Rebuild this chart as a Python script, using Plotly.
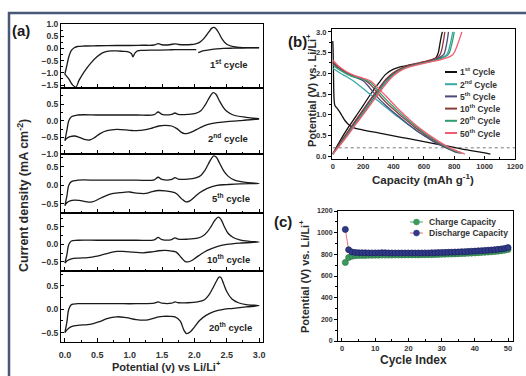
import plotly.graph_objects as go

W, H = 526, 376

# ---------------- Panel (a): CV data (Potential V, current mA cm-2) ----------------
cv_labels = ["1<sup>st</sup> cycle", "2<sup>nd</sup> cycle", "5<sup>th</sup> cycle",
             "10<sup>th</sup> cycle", "20<sup>th</sup> cycle"]

# cathodic sweeps (3.0 V -> 0 V)
cv1_dn_v = [3.0, 2.8, 2.6, 2.45, 2.35, 2.25, 2.15, 2.1, 2.06, None, 2.03, 1.9, 1.8, 1.7, 1.6, 1.4, 1.2,
            1.12, 1.08, 1.05, 1.03, 0.98, 0.9, 0.8, 0.72, 0.65, 0.58, 0.5, 0.4, 0.3, 0.22, 0.17, 0.12, 0.06, 0.0]
cv1_dn_i = [0.02, 0.02, 0.01, 0.0, -0.02, -0.05, -0.09, -0.13, -0.17, None, -0.05, -0.05, -0.05, -0.05, -0.06,
            -0.07, -0.08, -0.1, -0.2, -0.34, -0.22, -0.14, -0.12, -0.1, -0.1, -0.12, -0.18, -0.33, -0.6, -0.95,
            -1.3, -1.58, -1.5, -1.25, -1.05]
# anodic sweeps (0 V -> 3.0 V)
cv1_up_v = [0.0, 0.03, 0.06, 0.1, 0.15, 0.2, 0.3, 0.5, 0.8, 1.0, 1.2, 1.38, 1.44, 1.5, 1.62, 1.7, 1.76, 1.85,
            1.95, 2.02, 2.08, 2.13, 2.18, 2.23, 2.27, 2.3, 2.33, 2.38, 2.43, 2.5, 2.6, 2.7, 2.85, 3.0]
cv1_up_i = [-1.05, -0.7, -0.35, -0.08, 0.04, 0.08, 0.1, 0.11, 0.12, 0.12, 0.13, 0.14, 0.2, 0.15, 0.15, 0.19,
            0.16, 0.15, 0.16, 0.19, 0.25, 0.36, 0.52, 0.7, 0.83, 0.86, 0.82, 0.62, 0.38, 0.17, 0.07, 0.04, 0.03, 0.03]

cv2_dn_v = [3.0, 2.8, 2.7, 2.5, 2.35, 2.2, 2.08, 1.98, 1.9, 1.85, 1.8, 1.73, 1.65, 1.55, 1.45, 1.35, 1.25,
            1.1, 1.0, 0.8, 0.65, 0.55, 0.45, 0.38, 0.3, 0.22, 0.15, 0.08, 0.03, 0.0]
cv2_dn_i = [0.05, 0.02, 0.0, -0.03, -0.06, -0.12, -0.22, -0.32, -0.38, -0.39, -0.35, -0.24, -0.16, -0.14,
            -0.16, -0.22, -0.27, -0.3, -0.29, -0.26, -0.3, -0.38, -0.52, -0.58, -0.56, -0.5, -0.46, -0.48,
            -0.53, -0.6]
cv2_up_v = [0.0, 0.03, 0.06, 0.1, 0.2, 0.5, 0.8, 1.1, 1.38, 1.44, 1.5, 1.65, 1.7, 1.75, 1.9, 2.02, 2.1,
            2.16, 2.21, 2.26, 2.29, 2.33, 2.38, 2.44, 2.5, 2.6, 2.8, 3.0]
cv2_up_i = [-0.6, -0.3, 0.0, 0.12, 0.17, 0.17, 0.17, 0.17, 0.18, 0.26, 0.19, 0.19, 0.23, 0.19, 0.19, 0.22,
            0.3, 0.45, 0.62, 0.78, 0.84, 0.8, 0.62, 0.42, 0.28, 0.17, 0.1, 0.06]

cv5_dn_v = [3.0, 2.7, 2.5, 2.35, 2.2, 2.08, 2.0, 1.93, 1.87, 1.8, 1.72, 1.65, 1.55, 1.45, 1.35, 1.25, 1.1,
            1.0, 0.85, 0.7, 0.55, 0.42, 0.32, 0.22, 0.15, 0.08, 0.03, 0.0]
cv5_dn_i = [0.05, 0.04, 0.02, 0.0, -0.08, -0.2, -0.32, -0.42, -0.45, -0.36, -0.22, -0.18, -0.15, -0.14,
            -0.17, -0.22, -0.21, -0.18, -0.2, -0.24, -0.35, -0.45, -0.44, -0.41, -0.4, -0.42, -0.47, -0.55]
cv5_up_v = [0.0, 0.03, 0.06, 0.1, 0.2, 0.5, 0.8, 1.1, 1.38, 1.44, 1.5, 1.65, 1.7, 1.75, 1.9, 2.02, 2.1,
            2.16, 2.21, 2.26, 2.3, 2.34, 2.39, 2.45, 2.52, 2.62, 2.8, 3.0]
cv5_up_i = [-0.55, -0.3, 0.0, 0.1, 0.14, 0.14, 0.14, 0.14, 0.15, 0.22, 0.16, 0.16, 0.21, 0.17, 0.17, 0.2,
            0.27, 0.4, 0.56, 0.72, 0.8, 0.76, 0.6, 0.4, 0.25, 0.14, 0.08, 0.05]

cv10_dn_v = [3.0, 2.7, 2.5, 2.35, 2.2, 2.1, 2.03, 1.96, 1.9, 1.86, 1.8, 1.72, 1.65, 1.55, 1.45, 1.35, 1.2,
             1.05, 0.9, 0.8, 0.65, 0.55, 0.45, 0.35, 0.22, 0.1, 0.04, 0.0]
cv10_dn_i = [0.07, 0.04, 0.0, -0.06, -0.17, -0.28, -0.37, -0.46, -0.5, -0.49, -0.38, -0.22, -0.19, -0.17,
             -0.18, -0.21, -0.24, -0.22, -0.2, -0.2, -0.26, -0.31, -0.35, -0.38, -0.39, -0.41, -0.46, -0.53]
cv10_up_v = [0.0, 0.03, 0.06, 0.1, 0.2, 0.5, 0.8, 1.1, 1.38, 1.44, 1.5, 1.65, 1.7, 1.75, 1.9, 2.05, 2.13,
             2.2, 2.26, 2.32, 2.37, 2.41, 2.46, 2.52, 2.6, 2.7, 2.85, 3.0]
cv10_up_i = [-0.53, -0.3, 0.0, 0.1, 0.12, 0.12, 0.12, 0.12, 0.13, 0.2, 0.14, 0.14, 0.19, 0.15, 0.15, 0.18,
             0.24, 0.36, 0.52, 0.7, 0.78, 0.72, 0.52, 0.32, 0.2, 0.13, 0.09, 0.07]

cv20_dn_v = [3.0, 2.8, 2.6, 2.45, 2.3, 2.18, 2.08, 2.0, 1.94, 1.88, 1.84, 1.78, 1.7, 1.62, 1.52, 1.45, 1.35,
             1.25, 1.1, 0.95, 0.8, 0.65, 0.55, 0.45, 0.35, 0.22, 0.1, 0.04, 0.0]
cv20_dn_i = [0.08, 0.05, 0.02, 0.0, -0.05, -0.13, -0.24, -0.38, -0.48, -0.52, -0.45, -0.25, -0.16, -0.15,
             -0.15, -0.16, -0.2, -0.23, -0.22, -0.18, -0.16, -0.2, -0.26, -0.3, -0.33, -0.34, -0.37, -0.43, -0.5]
cv20_up_v = [0.0, 0.03, 0.06, 0.1, 0.2, 0.5, 0.8, 1.1, 1.38, 1.44, 1.5, 1.65, 1.7, 1.75, 1.9, 2.05, 2.15,
             2.22, 2.28, 2.34, 2.38, 2.41, 2.45, 2.5, 2.58, 2.68, 2.8, 3.0]
cv20_up_i = [-0.5, -0.28, 0.0, 0.1, 0.12, 0.12, 0.12, 0.12, 0.13, 0.16, 0.13, 0.13, 0.16, 0.14, 0.14, 0.16,
             0.2, 0.3, 0.44, 0.6, 0.69, 0.68, 0.55, 0.38, 0.22, 0.14, 0.1, 0.08]

cv_ranges = [[-1.62, 1.0], [-1.0, 0.98], [-0.75, 0.85], [-0.76, 0.9], [-0.7, 0.82]]
cv_ticks = [[1.0, 0.5, 0.0, -0.5, -1.0, -1.5], [0.5, 0.0, -0.5, -1.0], [0.5, 0.0, -0.5],
            [0.5, 0.0, -0.5], [0.5, 0.0, -0.5]]

# ---------------- Panel (b): charge/discharge profiles ----------------
cycle_names = ["1<sup>st</sup> Cycle", "2<sup>nd</sup> Cycle", "5<sup>th</sup> Cycle",
               "10<sup>th</sup> Cycle", "20<sup>th</sup> Cycle", "50<sup>th</sup> Cycle"]
cycle_colors = ["#111111", "#3aa9a9", "#4b4b7d", "#8c3b3b", "#2f9e6c", "#f25b72"]

dis1_cap = [0, 2, 4, 6, 9, 14, 25, 40, 60, 80, 105, 140, 200, 300, 400, 500, 600, 700, 800, 900, 1000, 1038]
dis1_v = [2.78, 2.6, 2.2, 1.7, 1.35, 1.22, 1.17, 1.1, 0.98, 0.86, 0.76, 0.68, 0.63, 0.56, 0.49, 0.42, 0.35,
          0.28, 0.21, 0.14, 0.08, 0.05]
chg1_cap = [0, 50, 100, 150, 200, 250, 300, 350, 400, 450, 500, 550, 600, 650, 680, 695, 705, 715, 722]
chg1_v = [0.05, 0.38, 0.68, 0.95, 1.22, 1.5, 1.75, 1.98, 2.1, 2.16, 2.2, 2.23, 2.27, 2.32, 2.38, 2.5, 2.7,
          2.9, 3.0]

dis_cap = [0, 25, 50, 100, 150, 200, 250, 300, 350, 400, 450, 500, 550, 600, 650, 700, 750, 800]
dis2_v = [2.12, 2.06, 2.0, 1.9, 1.78, 1.63, 1.48, 1.33, 1.18, 1.03, 0.89, 0.75, 0.62, 0.5, 0.39, 0.29, 0.2, 0.12]
dis5_v = [2.25, 2.16, 2.1, 1.98, 1.9, 1.82, 1.62, 1.4, 1.22, 1.06, 0.91, 0.76, 0.62, 0.5, 0.38, 0.28, 0.19, 0.11]
dis10_v = [2.28, 2.19, 2.12, 2.0, 1.92, 1.86, 1.72, 1.5, 1.3, 1.13, 0.97, 0.82, 0.67, 0.54, 0.42, 0.31, 0.21, 0.13]
dis20_v = [2.2, 2.13, 2.07, 1.97, 1.9, 1.86, 1.77, 1.57, 1.37, 1.19, 1.02, 0.86, 0.71, 0.57, 0.44, 0.33, 0.22, 0.13]
dis50_v = [2.32, 2.22, 2.14, 2.02, 1.94, 1.88, 1.81, 1.64, 1.45, 1.26, 1.07, 0.9, 0.74, 0.6, 0.47, 0.35, 0.24, 0.15]
dis_end_cap = [820, 835, 845, 850, 870]
dis_end_v = [0.08, 0.07, 0.07, 0.07, 0.05]

chg_cap = [0, 50, 100, 150, 200, 250, 300, 350, 400, 450, 500, 550, 600, 650, 700]
chg2_v = [0.05, 0.3, 0.55, 0.8, 1.05, 1.3, 1.55, 1.8, 1.98, 2.1, 2.17, 2.22, 2.26, 2.3, 2.36]
chg5_v = [0.05, 0.32, 0.58, 0.84, 1.1, 1.36, 1.6, 1.84, 2.0, 2.11, 2.18, 2.23, 2.27, 2.31, 2.38]
chg10_v = [0.05, 0.33, 0.6, 0.86, 1.12, 1.38, 1.62, 1.86, 2.02, 2.12, 2.19, 2.24, 2.28, 2.33, 2.42]
chg20_v = [0.05, 0.29, 0.54, 0.79, 1.04, 1.29, 1.54, 1.78, 1.97, 2.09, 2.16, 2.21, 2.25, 2.29, 2.34]
chg50_v = [0.05, 0.27, 0.51, 0.76, 1.0, 1.25, 1.5, 1.74, 1.94, 2.07, 2.15, 2.2, 2.24, 2.28, 2.32]
chg_tail_cap = [[750, 770, 790], [730, 748, 762], [712, 726, 738], [760, 780, 800], [790, 820, 850]]
chg_tail_v = [[2.45, 2.65, 3.0], [2.45, 2.68, 3.0], [2.5, 2.72, 3.0], [2.45, 2.65, 3.0], [2.45, 2.68, 3.0]]

cutoff_v = 0.2

# ---------------- Panel (c): cycling ----------------
cycle_index = list(range(1, 51))
charge_cap = [725, 770, 782, 787, 789, 790, 790, 791, 791, 792, 792, 793, 793, 793, 793, 794, 794, 794, 794,
              795, 795, 795, 795, 796, 796, 797, 797, 798, 799, 800, 801, 802, 803, 804, 805, 807, 808, 810,
              811, 813, 815, 817, 819, 821, 823, 826, 829, 833, 838, 845]
discharge_cap = [1030, 842, 822, 817, 815, 814, 814, 813, 813, 813, 813, 815, 814, 813, 812, 812, 812, 812,
                 812, 812, 812, 812, 812, 812, 813, 813, 814, 815, 816, 817, 818, 819, 820, 821, 822, 824,
                 825, 827, 828, 830, 832, 834, 836, 838, 840, 843, 846, 850, 855, 862]
c_legend = ["Charge Capacity", "Discharge Capacity"]


def fx(p):
    return p / W


def fy(p):
    return 1 - p / H


fig = go.Figure()
FONT = "Liberation Sans, Arial, sans-serif"
TICKC = "#333333"

# panel a traces
cv_all = [(cv1_dn_v, cv1_dn_i, cv1_up_v, cv1_up_i), (cv2_dn_v, cv2_dn_i, cv2_up_v, cv2_up_i),
          (cv5_dn_v, cv5_dn_i, cv5_up_v, cv5_up_i), (cv10_dn_v, cv10_dn_i, cv10_up_v, cv10_up_i),
          (cv20_dn_v, cv20_dn_i, cv20_up_v, cv20_up_i)]
a_rows = [(24, 88), (88, 154), (154, 213), (213, 271), (271, 342)]
for k, (dv, di, uv, ui) in enumerate(cv_all):
    n = k + 1
    fig.add_trace(go.Scatter(x=dv + uv, y=di + ui, mode="lines", line=dict(color="#1a1a1a", width=1.3),
                             line_shape="spline", xaxis=f"x{n}", yaxis=f"y{n}", showlegend=False,
                             connectgaps=False))
    top, bot = a_rows[k]
    fig.layout[f"xaxis{n}"] = dict(domain=[fx(61), fx(263)], range=[-0.06, 3.06], anchor=f"y{n}",
                                   showline=True, linecolor="black", linewidth=1, mirror=True,
                                   ticks="inside", ticklen=4, dtick=0.5, tick0=0, tickcolor="black",
                                   minor=dict(ticks="inside", ticklen=2, dtick=0.25, tickcolor="black"),
                                   showgrid=False, zeroline=False, showticklabels=(n == 5),
                                   tickformat=".1f", ticklabelstandoff=4, automargin=False,
                                   tickfont=dict(size=9, color=TICKC, family=FONT, weight="bold"))
    fig.layout[f"yaxis{n}"] = dict(domain=[fy(bot), fy(top)], range=cv_ranges[k], anchor=f"x{n}",
                                   showline=True, linecolor="black", linewidth=1, mirror=True,
                                   ticks="inside", ticklen=3, tickvals=cv_ticks[k], tickcolor="black",
                                   minor=dict(ticks="inside", ticklen=2, dtick=0.25, tickcolor="black"),
                                   showgrid=False, zeroline=False, tickformat=".1f", automargin=False,
                                   tickfont=dict(size=8.5, color=TICKC, family=FONT, weight="bold"))

# panel b traces
dis_all = [dis2_v, dis5_v, dis10_v, dis20_v, dis50_v]
chg_all = [chg2_v, chg5_v, chg10_v, chg20_v, chg50_v]
fig.add_trace(go.Scatter(x=[0, 1200], y=[cutoff_v, cutoff_v], mode="lines",
                         line=dict(color="#777777", width=1, dash="dot"), xaxis="x6", yaxis="y6",
                         showlegend=False))
fig.add_trace(go.Scatter(x=dis1_cap, y=dis1_v, mode="lines", line=dict(color=cycle_colors[0], width=1.3),
                         line_shape="spline", xaxis="x6", yaxis="y6", showlegend=False))
fig.add_trace(go.Scatter(x=chg1_cap, y=chg1_v, mode="lines", line=dict(color=cycle_colors[0], width=1.3),
                         line_shape="spline", xaxis="x6", yaxis="y6", showlegend=False))
for j in range(5):
    col = cycle_colors[j + 1]
    fig.add_trace(go.Scatter(x=dis_cap + [dis_end_cap[j]], y=dis_all[j] + [dis_end_v[j]], mode="lines",
                             line=dict(color=col, width=1.3), line_shape="spline",
                             xaxis="x6", yaxis="y6", showlegend=False))
    fig.add_trace(go.Scatter(x=chg_cap + chg_tail_cap[j], y=chg_all[j] + chg_tail_v[j], mode="lines",
                             line=dict(color=col, width=1.3), line_shape="spline",
                             xaxis="x6", yaxis="y6", showlegend=False))

fig.layout["xaxis6"] = dict(domain=[fx(332), fx(515)], range=[-5, 1200], anchor="y6",
                            showline=True, linecolor="black", linewidth=1, mirror=True,
                            ticks="inside", ticklen=3, dtick=200, tickcolor="black",
                            minor=dict(ticks="inside", ticklen=2, dtick=100, tickcolor="black"),
                            showgrid=False, zeroline=False, automargin=False,
                            tickfont=dict(size=7.5, color=TICKC, family=FONT, weight="bold"))
fig.layout["yaxis6"] = dict(domain=[fy(159), fy(29)], range=[-0.07, 3.07], anchor="x6",
                            showline=True, linecolor="black", linewidth=1, mirror=True,
                            ticks="outside", ticklen=3, dtick=0.5, tickcolor="black", tickformat=".1f",
                            minor=dict(ticks="outside", ticklen=2, dtick=0.25, tickcolor="black"),
                            showgrid=False, zeroline=False, automargin=False,
                            tickfont=dict(size=7.5, color=TICKC, family=FONT, weight="bold"))

# panel c traces
fig.add_trace(go.Scatter(x=cycle_index, y=charge_cap, mode="lines+markers",
                         line=dict(color="#4aa86a", width=1),
                         marker=dict(color="#3d9a5e", size=6, line=dict(color="#2f7d4a", width=0.8)),
                         xaxis="x7", yaxis="y7", showlegend=False))
fig.add_trace(go.Scatter(x=cycle_index, y=discharge_cap, mode="lines+markers",
                         line=dict(color="#e8707e", width=1),
                         marker=dict(color="#2f3a8a", size=6, line=dict(color="#1f2460", width=0.8)),
                         xaxis="x7", yaxis="y7", showlegend=False))
fig.layout["xaxis7"] = dict(domain=[fx(338), fx(513)], range=[-1.2, 51.5], anchor="y7",
                            showline=True, linecolor="black", linewidth=1, mirror=True,
                            ticks="inside", ticklen=3, dtick=10, tickcolor="black",
                            minor=dict(ticks="inside", ticklen=2, dtick=5, tickcolor="black"),
                            showgrid=False, zeroline=False, automargin=False,
                            tickfont=dict(size=7.5, color=TICKC, family=FONT, weight="bold"))
fig.layout["yaxis7"] = dict(domain=[fy(341), fy(211)], range=[0, 1200], anchor="x7",
                            showline=True, linecolor="black", linewidth=1, mirror=True,
                            ticks="outside", ticklen=3, dtick=200, tickcolor="black",
                            minor=dict(ticks="outside", ticklen=2, dtick=100, tickcolor="black"),
                            showgrid=False, zeroline=False, automargin=False,
                            tickfont=dict(size=7, color=TICKC, family=FONT, weight="bold"))

# ---------------- annotations ----------------
ann = []


def add_text(text, x, y, size, angle=0, xanchor="center", color="#1a1a1a"):
    ann.append(dict(text=text, x=fx(x), y=fy(y), xref="paper", yref="paper", showarrow=False,
                    textangle=angle, xanchor=xanchor, yanchor="middle",
                    font=dict(size=size, family=FONT, color=color, weight="bold")))


add_text("(a)", 21, 31, 15)
add_text("(b)", 297, 41, 15)
add_text("(c)", 283, 221, 15)
add_text("Current density (mA cm<sup>-2</sup>)", 23, 196, 12.5, angle=-90, color="#2a2a2a")
add_text("Potential (v) vs Li/Li<sup>+</sup>", 166, 366, 11, color="#2a2a2a")
add_text("Potential (V) vs. Li/Li<sup>+</sup>", 311, 91, 11, angle=-90, color="#2a2a2a")
add_text("Capacity (mAh g<sup>-1</sup>)", 423, 179, 11.5, color="#2a2a2a")
add_text("Potential (V) vs. Li/Li<sup>+</sup>", 304, 276, 11, angle=-90, color="#2a2a2a")
add_text("Cycle Index", 413, 360, 12, color="#2a2a2a")
cv_label_pos = [(229, 64), (228, 138), (231, 198), (228, 259), (230, 327)]
for lab, (x, y) in zip(cv_labels, cv_label_pos):
    add_text(lab, x, y, 9.5, color="#222222")

shapes = []
# legend panel b (manual, compact)
for i, (nm, col) in enumerate(zip(cycle_names, cycle_colors)):
    yy = 72 + 12.2 * i
    shapes.append(dict(type="line", xref="paper", yref="paper", x0=fx(445), x1=fx(457), y0=fy(yy), y1=fy(yy),
                       line=dict(color=col, width=2)))
    add_text(nm, 458, yy, 8.5, xanchor="left", color="#333333")
# legend panel c
c_leg_style = [("#4aa86a", "#3d9a5e"), ("#e8707e", "#2f3a8a")]
for i, (nm, (lc, mc)) in enumerate(zip(c_legend, c_leg_style)):
    yy = 222 + 11 * i
    shapes.append(dict(type="line", xref="paper", yref="paper", x0=fx(410), x1=fx(423), y0=fy(yy), y1=fy(yy),
                       line=dict(color=lc, width=1)))
    shapes.append(dict(type="circle", xref="paper", yref="paper", x0=fx(413.5), x1=fx(419.5),
                       y0=fy(yy + 3), y1=fy(yy - 3), fillcolor=mc, line=dict(color=mc, width=0.5)))
    add_text(nm, 427, yy, 8.5, xanchor="left", color="#333333")

# outer frame
shapes.append(dict(type="rect", xref="paper", yref="paper", x0=fx(9), y0=-0.05, x1=1.05, y1=fy(13),
                   line=dict(color="#4a5878", width=2.5), layer="below"))

fig.update_layout(width=W, height=H, margin=dict(l=0, r=0, t=0, b=0), paper_bgcolor="white",
                  plot_bgcolor="rgba(0,0,0,0)", annotations=ann, shapes=shapes,
                  font=dict(family=FONT, color="#222222"))

# remove the default page margin so the 526x376 figure fills the window exactly; hide the modebar
fig.write_html("out.html", config={"displayModeBar": False},
               post_script="document.body.style.margin='0';document.body.style.overflow='hidden';"
                           "document.documentElement.style.overflow='hidden';")
